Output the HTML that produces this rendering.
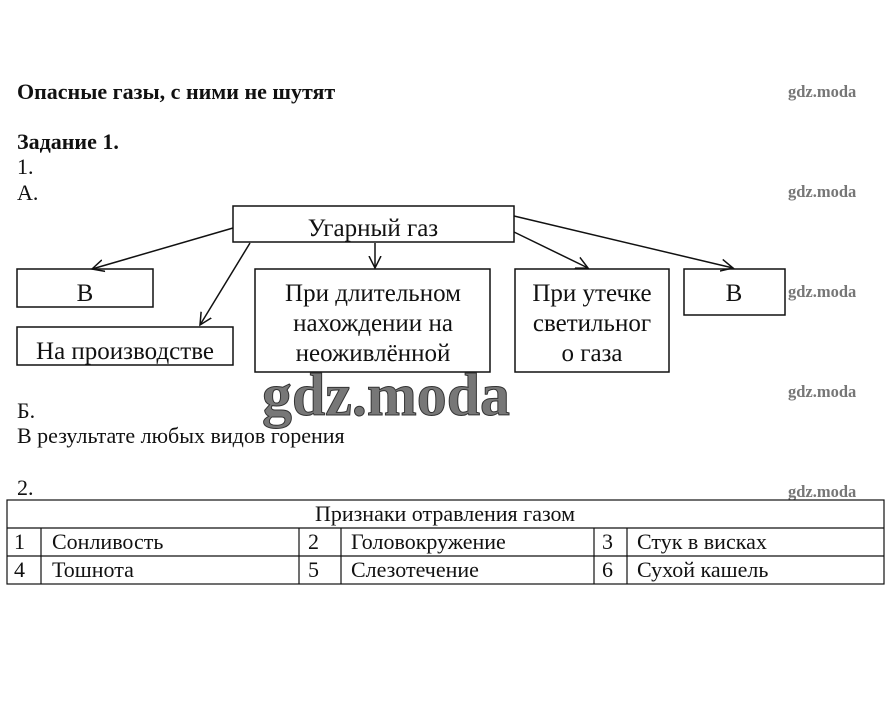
<!DOCTYPE html>
<html><head><meta charset="utf-8"><style>
body{margin:0;background:#fff;width:892px;height:721px;overflow:hidden}
svg{display:block}
text{font-family:"Liberation Serif",serif;fill:#111}
.w{font-family:"Liberation Serif",serif;font-weight:bold;fill:#777;font-size:16.5px}
</style></head><body>
<svg width="892" height="721" viewBox="0 0 892 721">
<defs><marker id="a" markerWidth="14" markerHeight="14" refX="12" refY="7" orient="auto" markerUnits="userSpaceOnUse"><path d="M0,1 L12,7 L0,13" fill="none" stroke="#111" stroke-width="1.5"/></marker></defs>
<text x="17" y="99" font-size="22" font-weight="bold">Опасные газы, с ними не шутят</text>
<text x="17" y="149" font-size="22" font-weight="bold">Задание 1.</text>
<text x="17" y="174" font-size="22">1.</text>
<text x="17" y="200" font-size="22">А.</text>
<g><text class="w" x="788" y="97">gdz.moda</text><text class="w" x="788" y="197">gdz.moda</text><text class="w" x="788" y="297">gdz.moda</text><text class="w" x="788" y="397">gdz.moda</text><text class="w" x="788" y="497">gdz.moda</text></g>
<g fill="none" stroke="#111" stroke-width="1.5">
<rect x="233" y="206" width="281" height="36"/>
<rect x="17" y="269" width="136" height="38"/>
<rect x="17" y="327" width="216" height="38"/>
<rect x="255" y="269" width="235" height="103"/>
<rect x="515" y="269" width="154" height="103"/>
<rect x="684" y="269" width="101" height="46"/>
<line x1="233" y1="228" x2="92" y2="269" marker-end="url(#a)"/>
<line x1="250" y1="243" x2="200" y2="325" marker-end="url(#a)"/>
<line x1="375" y1="243" x2="375" y2="268" marker-end="url(#a)"/>
<line x1="514" y1="232" x2="588" y2="268" marker-end="url(#a)"/>
<line x1="514" y1="216" x2="733" y2="268" marker-end="url(#a)"/>
</g>
<g font-size="25" text-anchor="middle">
<text x="373" y="236">Угарный газ</text>
<text x="85" y="301">В</text>
<text x="125" y="359">На производстве</text>
<text x="373" y="301">При длительном</text>
<text x="373" y="331">нахождении на</text>
<text x="373" y="361">неоживлённой</text>
<text x="592" y="301">При утечке</text>
<text x="592" y="331">светильног</text>
<text x="592" y="361">о газа</text>
<text x="734" y="301">В</text>
</g>
<text x="262" y="415" font-size="60" font-weight="bold" textLength="248" lengthAdjust="spacingAndGlyphs" style="fill:#777;stroke:#333;stroke-width:1">gdz.moda</text>
<text x="17" y="418" font-size="22">Б.</text>
<text x="17" y="443" font-size="22">В результате любых видов горения</text>
<text x="17" y="495" font-size="22">2.</text>
<g fill="none" stroke="#111" stroke-width="1.2">
<rect x="7" y="500" width="877" height="84"/>
<line x1="7" y1="528" x2="884" y2="528"/><line x1="7" y1="556" x2="884" y2="556"/>
<line x1="41" y1="528" x2="41" y2="584"/><line x1="299" y1="528" x2="299" y2="584"/>
<line x1="341" y1="528" x2="341" y2="584"/><line x1="594" y1="528" x2="594" y2="584"/>
<line x1="627" y1="528" x2="627" y2="584"/>
</g>
<g font-size="22">
<text x="445" y="521" text-anchor="middle">Признаки отравления газом</text>
<text x="14" y="549">1</text><text x="52" y="549">Сонливость</text>
<text x="308" y="549">2</text><text x="351" y="549">Головокружение</text>
<text x="602" y="549">3</text><text x="637" y="549">Стук в висках</text>
<text x="14" y="577">4</text><text x="52" y="577">Тошнота</text>
<text x="308" y="577">5</text><text x="351" y="577">Слезотечение</text>
<text x="602" y="577">6</text><text x="637" y="577">Сухой кашель</text>
</g>
</svg>
</body></html>
